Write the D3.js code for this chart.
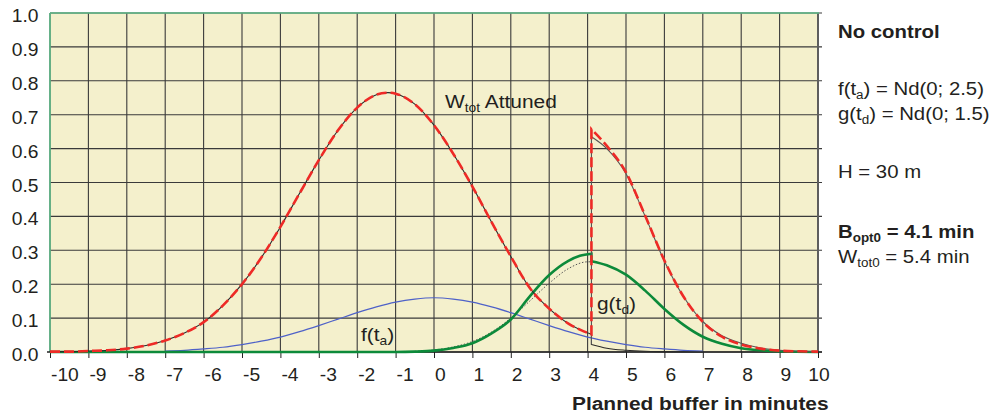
<!DOCTYPE html>
<html>
<head>
<meta charset="utf-8">
<script src="https://cdn.jsdelivr.net/npm/d3@7"></script>
<style>
  body { margin: 0; background: #fff; }
  text { font-family: "Liberation Sans", Arial, Helvetica, sans-serif; fill: #231f20; }
</style>
</head>
<body>
<script>

// ---- data ----
var xTickVals   = [-10,-9,-8,-7,-6,-5,-4,-3,-2,-1,0,1,2,3,4,5,6,7,8,9,10];
var xTickLabels = ["-10","-9","-8","-7","-6","-5","-4","-3","-2","-1","0","1","2","3","4","5","6","7","8","9","10"];
var yTickVals   = [0,0.1,0.2,0.3,0.4,0.5,0.6,0.7,0.8,0.9,1.0];
var yTickLabels = ["0.0","0.1","0.2","0.3","0.4","0.5","0.6","0.7","0.8","0.9","1.0"];

// f(ta), blue
var fTa = [[-7,0.003],[-6.5,0.005],[-6,0.009],[-5.5,0.014],[-5,0.022],[-4.5,0.032],[-4,0.044],[-3.5,0.060],
  [-3,0.078],[-2.5,0.097],[-2,0.116],[-1.5,0.133],[-1,0.147],[-0.5,0.156],[0,0.160],[0.5,0.156],[1,0.147],
  [1.5,0.133],[2,0.116],[2.5,0.097],[3,0.078],[3.5,0.060],[4,0.044],[4.5,0.032],[5,0.022],[5.5,0.014],
  [6,0.009],[6.5,0.005],[7,0.003]];

// Wtot, left part (red dashed and black thin share it)
var wLeft = [[-10,0.001],[-9.5,0.001],[-9,0.003],[-8.5,0.005],[-8,0.010],[-7.5,0.019],[-7,0.034],[-6.5,0.056],
  [-6,0.088],[-5.5,0.137],[-5,0.200],[-4.5,0.278],[-4,0.369],[-3.5,0.468],[-3,0.566],[-2.5,0.654],[-2,0.721],
  [-1.5,0.759],[-1.2,0.765],[-1,0.762],[-0.5,0.731],[0,0.669],[0.5,0.585],[1,0.488],[1.5,0.383],[2,0.282],
  [2.5,0.188],[3,0.128],[3.5,0.084],[3.8,0.066],[4.1,0.052]];
// Wtot attuned, red, after the jump
var redRight = [[4.1,0.657],[4.5,0.608],[5,0.530],[5.5,0.402],[6,0.270],[6.5,0.163],[7,0.089],[7.5,0.045],
  [8,0.022],[8.5,0.010],[9,0.004],[9.5,0.002],[10,0.001]];
// black thin, low tail and upper branch
var blackTail = [[4.1,0.022],[4.5,0.011],[5,0.005],[5.5,0.002],[6,0.001],[7,0.0]];
var blackRise = [[4.1,0.635],[4.5,0.600],[5,0.526],[5.5,0.400],[6,0.268],[6.5,0.163],[7,0.090],[7.5,0.048],
  [8,0.026],[8.5,0.012],[9,0.005],[9.5,0.002],[10,0.001]];

// g(td), green
var gLeft = [[-10,0],[-1,0],[-0.5,0.001],[0,0.004],[0.5,0.012],[1,0.026],[1.5,0.055],[2,0.096],[2.5,0.165],
  [3,0.227],[3.5,0.269],[3.8,0.284],[4.1,0.290]];
var gRight = [[4.1,0.268],[4.5,0.256],[5,0.228],[5.5,0.181],[6,0.127],[6.5,0.080],[7,0.045],[7.5,0.024],
  [8,0.011],[8.5,0.005],[9,0.002],[10,0]];
// dotted, under green
var gDotted = [[-0.5,0.002],[0,0.006],[0.5,0.015],[1,0.031],[1.5,0.059],[2,0.100],[2.5,0.151],[3,0.203],
  [3.5,0.246],[4,0.266],[4.1,0.266]];

var width = 999, height = 419;
var stretch = 1.1;

var svg = d3.select("body").append("svg")
    .attr("width", width)
    .attr("height", height);

var x = d3.scaleLinear().domain([-10, 10]).range([50, 818]);
var y = d3.scaleLinear().domain([0, 1]).range([352, 13]);

// plot background
svg.append("rect")
    .attr("x", x(-10)).attr("y", y(1))
    .attr("width", x(10) - x(-10)).attr("height", y(0) - y(1))
    .attr("fill", "#f4f0cc");

// grid
svg.append("g").selectAll("line")
    .data(xTickVals)
  .enter().append("line")
    .attr("x1", function(d) { return x(d); }).attr("x2", function(d) { return x(d); })
    .attr("y1", y(1)).attr("y2", y(0))
    .attr("stroke", "#3a3a3a").attr("stroke-width", 1.1);

svg.append("g").selectAll("line")
    .data(yTickVals)
  .enter().append("line")
    .attr("x1", x(-10)).attr("x2", x(10) + 4)
    .attr("y1", function(d) { return y(d); }).attr("y2", function(d) { return y(d); })
    .attr("stroke", "#3a3a3a").attr("stroke-width", 1.1);

// borders
svg.append("line").attr("x1", x(10)).attr("x2", x(10)).attr("y1", y(1)).attr("y2", y(0))
    .attr("stroke", "#5e5e5e").attr("stroke-width", 2);
svg.append("line").attr("x1", x(-10)).attr("x2", x(10) + 1).attr("y1", y(1)).attr("y2", y(1))
    .attr("stroke", "#5cb987").attr("stroke-width", 1.6);
svg.append("line").attr("x1", x(-10)).attr("x2", x(-10)).attr("y1", y(1)).attr("y2", y(0))
    .attr("stroke", "#5cb987").attr("stroke-width", 1.6);

// axes
var xAxis = svg.append("g")
    .attr("transform", "translate(0," + y(0) + ")")
    .call(d3.axisBottom(x).tickValues(xTickVals)
      .tickFormat(function(d, i) { return xTickLabels[i]; })
      .tickSize(6).tickSizeOuter(0));
xAxis.select(".domain").remove();
xAxis.selectAll(".tick line").attr("stroke", "#222");
xAxis.selectAll(".tick text")
    .attr("y", null).attr("dy", null)
    .attr("font-size", 17.5)
    .attr("fill", "#231f20")
    .attr("text-anchor", function(d, i) { return i == xTickVals.length - 1 ? "middle" : "start"; })
    .attr("transform", "translate(0.5,29) scale(" + stretch + ",1)");
svg.append("line").attr("x1", 47).attr("x2", x(10) + 4).attr("y1", y(0)).attr("y2", y(0))
    .attr("stroke", "#222").attr("stroke-width", 1.3);

var yAxis = svg.append("g")
    .attr("transform", "translate(" + x(-10) + ",0)")
    .call(d3.axisLeft(y).tickValues(yTickVals)
      .tickFormat(function(d, i) { return yTickLabels[i]; })
      .tickSize(0));
yAxis.select(".domain").remove();
yAxis.selectAll(".tick text")
    .attr("x", null).attr("dy", null)
    .attr("font-size", 17.5)
    .attr("fill", "#231f20")
    .attr("transform", "translate(-11.5,8.5) scale(" + stretch + ",1)");

// curves
var line = d3.line()
    .x(function(d) { return x(d[0]); })
    .y(function(d) { return y(d[1]); })
    .curve(d3.curveMonotoneX);

// join several smooth pieces into one path (vertical jumps between them)
function joined(pieces) {
  return pieces.map(function(p, i) {
    var s = line(p);
    return i == 0 ? s : "L" + s.slice(1);
  }).join("");
}

svg.append("path")
    .attr("d", line(fTa))
    .attr("fill", "none").attr("stroke", "#4e61c8").attr("stroke-width", 1.2);

svg.append("path")
    .attr("d", line(gDotted))
    .attr("fill", "none").attr("stroke", "#555").attr("stroke-width", 1)
    .attr("stroke-dasharray", "1.5,1.8");

svg.append("path")
    .attr("d", joined([gLeft, gRight]))
    .attr("fill", "none").attr("stroke", "#0c8a3a").attr("stroke-width", 2.6);

svg.append("path")
    .attr("d", joined([wLeft, blackTail]))
    .attr("fill", "none").attr("stroke", "#2a2a2a").attr("stroke-width", 1.1);
svg.append("path")
    .attr("d", joined([[blackTail[0]], blackRise]))
    .attr("fill", "none").attr("stroke", "#555").attr("stroke-width", 1.1);

svg.append("path")
    .attr("d", joined([wLeft, redRight]))
    .attr("fill", "none").attr("stroke", "#ee2a26").attr("stroke-width", 2.6)
    .attr("stroke-dasharray", "10,4");

// text helper: parts = [[string, isSub], ...]
function label(px, py, parts, size, bold) {
  var t = svg.append("text")
      .attr("transform", "translate(" + px + "," + py + ") scale(" + stretch + ",1)")
      .attr("font-size", size)
      .attr("font-weight", bold ? "bold" : "normal");
  var shift = 0;
  parts.forEach(function(p) {
    var want = p[1] ? 4 : 0;
    t.append("tspan")
        .attr("dy", want - shift)
        .attr("font-size", p[1] ? size * 0.66 : size)
        .text(p[0]);
    shift = want;
  });
  return t;
}

label(445, 108, [["W", 0], ["tot", 1], [" Attuned", 0]], 19);
label(361, 341, [["f(t", 0], ["a", 1], [")", 0]], 19);
label(597, 310, [["g(t", 0], ["d", 1], [")", 0]], 19);

label(838, 38, [["No control", 0]], 18.5, true);
label(838, 95, [["f(t", 0], ["a", 1], [")  = Nd(0; 2.5)", 0]], 18.5);
label(838, 120, [["g(t", 0], ["d", 1], [") = Nd(0; 1.5)", 0]], 18.5);
label(838, 178, [["H = 30 m", 0]], 18.5);
label(838, 238, [["B", 0], ["opt0", 1], [" = 4.1 min", 0]], 18.5, true);
label(838, 263, [["W", 0], ["tot0", 1], [" = 5.4 min", 0]], 18.5);

label(572, 410, [["Planned buffer in minutes", 0]], 19, true);

</script>
</body>
</html>
